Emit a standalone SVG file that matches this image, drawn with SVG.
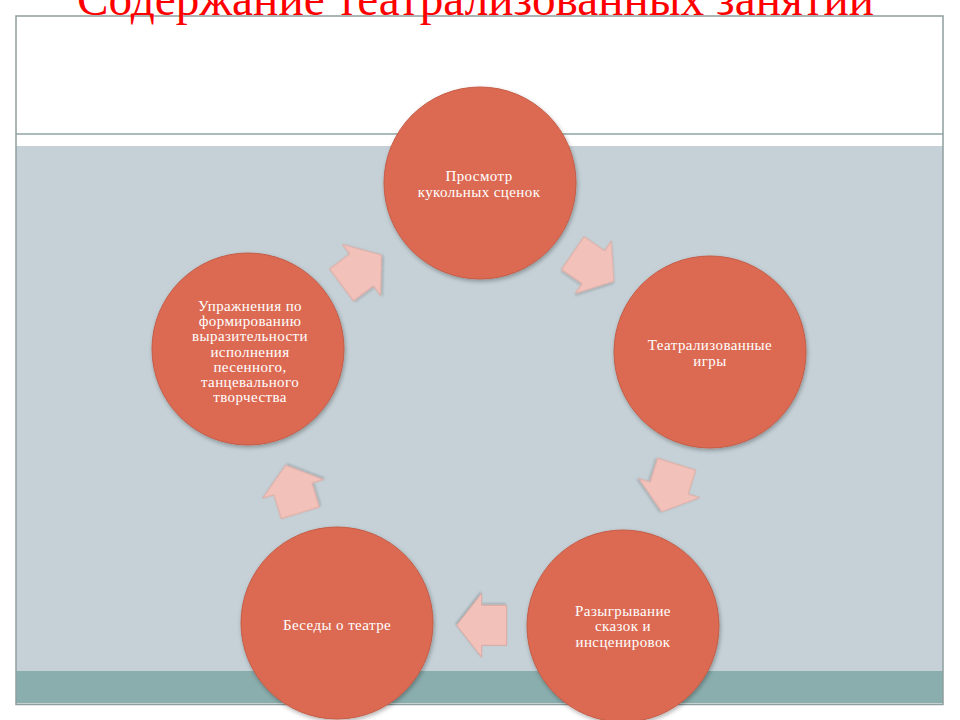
<svg xmlns="http://www.w3.org/2000/svg" width="960" height="720" viewBox="0 0 960 720">
<defs>
<style>
.node{fill:#DC6B53;stroke:#C45C46;stroke-width:1;filter:url(#sh)}
.lbl{font-family:"Liberation Serif","Times New Roman",serif;font-size:15px;letter-spacing:0.4px;fill:#FFFFFF;text-anchor:middle}
.arr{fill:#F2C1BA;stroke:#D9A39A;stroke-width:0.8;filter:url(#sh2)}
.title{font-family:"Liberation Serif","Times New Roman",serif;font-size:48px;fill:#FF0000}
</style>
<filter id="sh" x="-20%" y="-20%" width="140%" height="140%">
<feDropShadow dx="1" dy="2" stdDeviation="2" flood-color="#000" flood-opacity="0.3"/>
</filter>
<filter id="sh2" x="-30%" y="-30%" width="160%" height="160%">
<feDropShadow dx="1" dy="1.5" stdDeviation="1.2" flood-color="#000" flood-opacity="0.2"/>
</filter>
<polygon id="arrow" points="-25,-20 0,-20 0,-32 25,0 0,32 0,20 -25,20"/>
</defs>
<rect width="960" height="720" fill="#FFFFFF"/>
<g id="frame">
<rect x="16" y="146" width="927" height="525" fill="#C5D1D7"/>
<rect x="16" y="671" width="927" height="32" fill="#8AADAD"/>
<line x1="16" y1="134" x2="943" y2="134" stroke="#8FA3A3" stroke-width="1.5"/>
<line x1="16" y1="703.5" x2="943" y2="703.5" stroke="#D8E2E2" stroke-width="1"/>
<rect x="16" y="16" width="927" height="688.5" fill="none" stroke="#8E9E9E" stroke-width="1.5"/>
</g>
<g id="connectors">
<use href="#arrow" class="arr" transform="translate(361.5,270) rotate(-36.7)"/>
<use href="#arrow" class="arr" transform="translate(593.3,267.2) rotate(34.5)"/>
<use href="#arrow" class="arr" transform="translate(669.2,488) rotate(107.4)"/>
<use href="#arrow" class="arr" transform="translate(481.7,625.3) rotate(180)"/>
<use href="#arrow" class="arr" transform="translate(293,489) rotate(-107)"/>
</g>
<g id="node-prosmotr">
<circle class="node" cx="480" cy="183" r="96"/>
<text class="lbl" x="479" y="181">Просмотр</text>
<text class="lbl" x="479" y="197">кукольных сценок</text>
</g>
<g id="node-igry">
<circle class="node" cx="710" cy="352" r="96"/>
<text class="lbl" x="710" y="350">Театрализованные</text>
<text class="lbl" x="710" y="366">игры</text>
</g>
<g id="node-razygryvanie">
<circle class="node" cx="623" cy="626" r="96"/>
<text class="lbl" x="623" y="615.5">Разыгрывание</text>
<text class="lbl" x="623" y="631">сказок и</text>
<text class="lbl" x="623" y="646.5">инсценировок</text>
</g>
<g id="node-besedy">
<circle class="node" cx="337" cy="623" r="96"/>
<text class="lbl" x="337" y="629.5">Беседы о театре</text>
</g>
<g id="node-uprazhneniya">
<circle class="node" cx="248" cy="349" r="96"/>
<text class="lbl" x="250" y="311">Упражнения по</text>
<text class="lbl" x="250" y="326">формированию</text>
<text class="lbl" x="250" y="341">выразительности</text>
<text class="lbl" x="250" y="356.5">исполнения</text>
<text class="lbl" x="250" y="371.5">песенного,</text>
<text class="lbl" x="250" y="386.5">танцевального</text>
<text class="lbl" x="250" y="401.5">творчества</text>
</g>
<text class="title" x="77" y="15" textLength="797" lengthAdjust="spacingAndGlyphs">Содержание театрализованных занятий</text>
</svg>
